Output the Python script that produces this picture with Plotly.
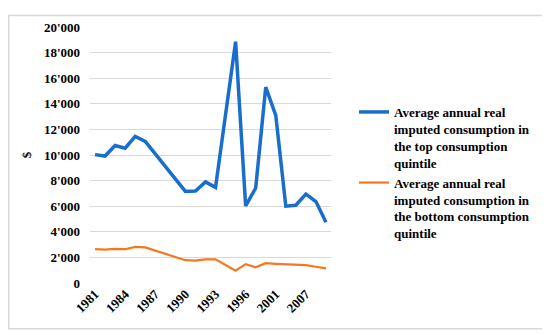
import plotly.graph_objects as go

years = ['1981', '1982', '1983', '1984', '1985', '1986', '1987', '1988', '1989',
         '1990', '1991', '1992', '1993', '1994', '1995', '1996', '1998', '2000',
         '2001', '2003', '2005', '2007', '2008', '2009']

top_quintile = [10030, 9920, 10740, 10530, 11450, 11060, None, None, None,
                7160, 7190, 7900, 7470, None, 18850, 6025, 7420, 15300,
                13100, 6000, 6075, 6940, 6360, 4740]

bottom_quintile = [2640, 2600, 2670, 2640, 2820, 2780, None, None, None,
                   1780, 1750, 1850, 1850, None, 967, 1475, 1220, 1550,
                   1500, 1475, 1450, 1400, 1270, 1145]

tick_years = ['1981', '1984', '1987', '1990', '1993', '1996', '2001', '2007']

name_top = "Average annual real<br>imputed consumption in<br>the top consumption<br>quintile"
name_bottom = "Average annual real<br>imputed consumption in<br>the bottom consumption<br>quintile"

FONT = "Liberation Serif, Times New Roman, serif"

fig = go.Figure()
fig.add_trace(go.Scatter(x=years, y=top_quintile, mode='lines', name=name_top,
                         connectgaps=True,
                         line=dict(color='#1a6ecb', width=3.5)))
fig.add_trace(go.Scatter(x=years, y=bottom_quintile, mode='lines', name=name_bottom,
                         connectgaps=True,
                         line=dict(color='#f5781f', width=2.2)))

# page body adds an 8px offset, so the figure is drawn 8px smaller
W, H = 542, 327
L, T = 82, 12.5
R = W - 323
B = H - 275
pw, ph = W - L - R, H - T - B

fig.update_layout(
    width=W, height=H,
    margin=dict(l=L, r=R, t=T, b=B),
    paper_bgcolor='white', plot_bgcolor='white',
    separators=".'",
    font=dict(family=FONT, size=13, color='black'),
    showlegend=True,
    legend=dict(
        xref='container', yref='container',
        x=346 / W, y=1 - 89 / H, xanchor='left', yanchor='top',
        valign='top', tracegroupgap=0,
        font=dict(family=FONT, size=13, color='black', weight='bold'),
        bgcolor='rgba(0,0,0,0)',
    ),
    xaxis=dict(
        type='category', categoryorder='array', categoryarray=years,
        range=[-0.5, len(years) - 0.5],
        tickmode='array', tickvals=tick_years, ticktext=tick_years,
        tickangle=-45, showgrid=False, showline=False, zeroline=False,
        tickfont=dict(family=FONT, size=13, color='black', weight='bold'),
    ),
    yaxis=dict(
        range=[0, 20000], dtick=2000, tickformat=",d",
        showgrid=True, gridcolor='#d9d9d9', gridwidth=1,
        zeroline=False, showline=False,
        ticklabelstandoff=9,
        tickfont=dict(family=FONT, size=13, color='black', weight='bold'),
        title=dict(text='$', standoff=9,
                   font=dict(family=FONT, size=13, color='black', weight='bold')),
    ),
    shapes=[dict(
        type='rect', xref='paper', yref='paper', layer='below',
        x0=(0.75 - L) / pw, x1=(535 - L) / pw,
        y0=(H - B - 322) / ph, y1=(H - B - 0.75) / ph,
        line=dict(color='#d9d9d9', width=1.5), fillcolor='rgba(0,0,0,0)',
    )],
)

fig.write_html("out.html")
